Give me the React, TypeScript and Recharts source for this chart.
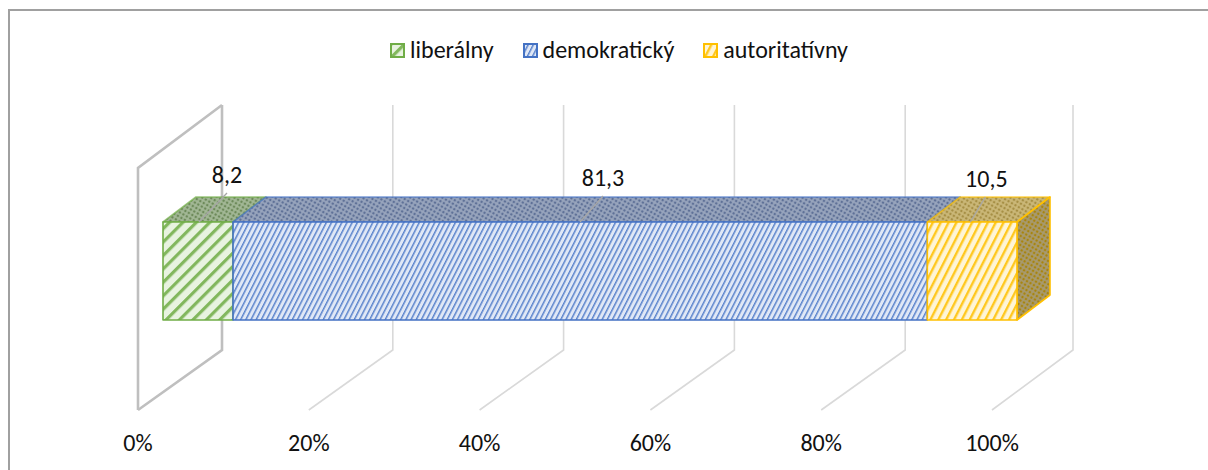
import { Bar, BarChart, CartesianGrid, LabelList, Legend, XAxis, YAxis } from "recharts";

const categories = ["typ"];
const seriesNames = ["liberálny", "demokratický", "autoritatívny"];
const liberalny = [8.2];
const demokraticky = [81.3];
const autoritativny = [10.5];
const xTicks = [0, 20, 40, 60, 80, 100];

const rows = categories.map((name, i) => ({
  name,
  [seriesNames[0]]: liberalny[i],
  [seriesNames[1]]: demokraticky[i],
  [seriesNames[2]]: autoritativny[i]
}));

const FONT = "Carlito, Lato, 'Open Sans', sans-serif";
const STROKES = ["#70ad47", "#4472c4", "#ffc000"];
const PALE = ["#e8f3e0", "#e0e8f6", "#fff5d6"];
const TOPS = ["#a3b896", "#98a5bd", "#cbb878"];
const GAPS = [9.5, 4.6, 7];
const WIDTHS = [3.2, 1.5, 2.4];
const ANGLES = [45, 27, 27];

// floor / wall offsets of the fake 3d box
const FLOOR_DX = 84;
const FLOOR_DY = 60;
const BAR_SHIFT = 25;
const DEPTH_X = 33;
const DEPTH_Y = 25;

function Patterns() {
  return (
    <defs>
      {STROKES.map((c, i) => (
        <pattern
          key={c}
          id={`front${i}`}
          width={GAPS[i]}
          height={GAPS[i]}
          patternUnits="userSpaceOnUse"
          patternTransform={`rotate(${ANGLES[i]})`}
        >
          <rect width={GAPS[i]} height={GAPS[i]} fill={PALE[i]} />
          <rect width={WIDTHS[i]} height={GAPS[i]} fill={c} fillOpacity={0.85} />
        </pattern>
      ))}
      {STROKES.map((c, i) => (
        <pattern key={c} id={`top${i}`} width={4} height={4} patternUnits="userSpaceOnUse" patternTransform="rotate(30)">
          <rect width={4} height={4} fill={TOPS[i]} />
          <circle cx={2} cy={2} r={1.3} fill={["#6d8a5a", "#5f7197", "#a68f45"][i]} />
        </pattern>
      ))}
      {STROKES.map((c, i) => (
        <pattern key={c} id={`side${i}`} width={4} height={4} patternUnits="userSpaceOnUse" patternTransform="rotate(30)">
          <rect width={4} height={4} fill={["#7d9070", "#7585a3", "#a79a70"][i]} />
          <circle cx={2} cy={2} r={1.3} fill={["#5f8a40", "#3c64ad", "#a8850f"][i]} />
        </pattern>
      ))}
    </defs>
  );
}

function Box(props: any) {
  const { x, y, width, height, seriesIndex, last } = props;
  const left = x + BAR_SHIFT;
  const right = left + width;
  const bottom = y + height;
  const c = STROKES[seriesIndex];
  return (
    <g strokeWidth={1.6} stroke={c} strokeLinejoin="round">
      <path
        d={`M${left},${y} L${left + DEPTH_X},${y - DEPTH_Y} L${right + DEPTH_X},${y - DEPTH_Y} L${right},${y} Z`}
        fill={`url(#top${seriesIndex})`}
        strokeOpacity={0.7}
      />
      {last && (
        <path
          d={`M${right},${y} L${right + DEPTH_X},${y - DEPTH_Y} L${right + DEPTH_X},${bottom - DEPTH_Y} L${right},${bottom} Z`}
          fill={`url(#side${seriesIndex})`}
        />
      )}
      <rect x={left} y={y} width={width} height={height} fill={`url(#front${seriesIndex})`} />
    </g>
  );
}

const LEADERS = [
  { bx: 36, tx: 64, ty: -29, ly: -39, lx: 64 },
  { bx: 347, tx: 370, ty: -26, ly: -36, lx: 370 },
  { bx: 43, tx: 58, ty: -25, ly: -35, lx: 59 }
];

function ValueLabel(props: any) {
  const { x, y, value, seriesIndex } = props;
  const l = LEADERS[seriesIndex];
  const left = x + BAR_SHIFT;
  return (
    <g>
      <line x1={left + l.bx} y1={y} x2={left + l.tx} y2={y + l.ty} stroke="#a6a6a6" strokeWidth={1.3} />
      <text x={left + l.lx} y={y + l.ly} textAnchor="middle" fontSize={24} fontFamily={FONT} fill="#111">
        {String(value).replace(".", ",")}
      </text>
    </g>
  );
}

// grid line runs along the floor and then up the back wall
function GridLine(props: any) {
  const { x1, y1, y2 } = props;
  const bottom = Math.max(y1, y2);
  // the last wall line sits a touch further in
  const backX = x1 + FLOOR_DX - (x1 > 990 ? 3 : 0);
  const backY = bottom - FLOOR_DY;
  const first = x1 < 140;
  return (
    <g fill="none" stroke={first ? "#bfbfbf" : "#d9d9d9"} strokeWidth={first ? 2.6 : 1.6}>
      <path d={`M${x1},${bottom} L${backX},${backY} L${backX},105`} />
      {first && <path d={`M${backX},105 L${x1},168 L${x1},${bottom}`} />}
    </g>
  );
}

function LegendSwatches() {
  return (
    <div
      style={{
        display: "flex",
        justifyContent: "center",
        gap: 29,
        fontFamily: FONT,
        fontSize: 24,
        color: "#111",
        lineHeight: "22px"
      }}
    >
      {seriesNames.map((n, i) => (
        <span key={n} style={{ display: "flex", alignItems: "center", gap: 5 }}>
          <svg width={15} height={15}>
            <rect x={1} y={1} width={13} height={13} fill={`url(#front${i})`} stroke={STROKES[i]} strokeWidth={2} />
          </svg>
          {n}
        </span>
      ))}
    </div>
  );
}

export default function App() {
  return (
    <div
      style={{
        position: "absolute",
        left: 0,
        top: 0,
        width: 1208,
        height: 470,
        overflow: "hidden",
        background: "#fff"
      }}
    >
      <div style={{ position: "absolute", left: 8, top: 9, width: 1200, height: 2, background: "#a0a0a0" }} />
      <div style={{ position: "absolute", left: 8, top: 9, width: 2, height: 461, background: "#a0a0a0" }} />
      <BarChart
        width={1208}
        height={470}
        data={rows}
        layout="vertical"
        margin={{ top: 110, right: 216, bottom: 0, left: 138 }}
        barSize={98}
        style={{ position: "absolute", left: 0, top: 0 }}
      >
        <Patterns />
        <CartesianGrid horizontal={false} vertical={<GridLine />} syncWithTicks />
        <XAxis
          type="number"
          domain={[0, 100]}
          ticks={xTicks}
          tickFormatter={(v: number) => `${v}%`}
          axisLine={false}
          tickLine={false}
          tickMargin={18}
          tick={{ fontSize: 24, fontFamily: FONT, fill: "#111" }}
          height={60}
          interval={0}
        />
        <YAxis type="category" dataKey="name" hide />
        <Legend verticalAlign="top" content={<LegendSwatches />} wrapperStyle={{ top: 39, left: 15, width: 1208 }} />
        {seriesNames.map((n, i) => (
          <Bar
            key={n}
            dataKey={n}
            stackId="a"
            isAnimationActive={false}
            fill={STROKES[i]}
            shape={<Box seriesIndex={i} last={i === seriesNames.length - 1} />}
          >
            <LabelList dataKey={n} content={<ValueLabel seriesIndex={i} />} />
          </Bar>
        ))}
      </BarChart>
    </div>
  );
}
